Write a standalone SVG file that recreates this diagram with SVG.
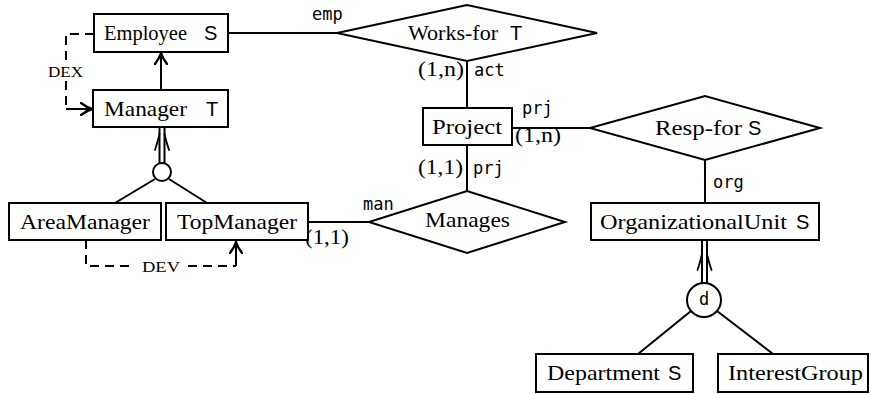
<svg xmlns="http://www.w3.org/2000/svg" width="871" height="394" viewBox="0 0 871 394">
<style>
.box{fill:#fff;stroke:#000;stroke-width:2}
.dia{fill:#fff;stroke:#000;stroke-width:2;stroke-linejoin:miter}
.ln{fill:none;stroke:#000;stroke-width:2}
.dash{fill:none;stroke:#000;stroke-width:2;stroke-dasharray:9 6}
.t{font-family:"Liberation Serif","Times New Roman",serif;font-size:21px;fill:#000}
.s{font-family:"Liberation Sans",Arial,sans-serif;font-size:20px;fill:#000}
.m{font-family:"DejaVu Sans Mono","Liberation Mono",monospace;font-size:17px;fill:#000}
.sm{font-family:"Liberation Serif","Times New Roman",serif;font-size:15px;fill:#000}
.barb{fill:none;stroke:#000;stroke-width:1.8;stroke-linecap:round}
</style>
<defs>
<marker id="arr" viewBox="-12 -7 14 14" refX="0" refY="0" markerWidth="14" markerHeight="14" markerUnits="userSpaceOnUse" orient="auto">
<path d="M-11,-6 Q-5,-1.5 0,0 Q-5,1.5 -11,6" fill="none" stroke="#000" stroke-width="2.4" stroke-linecap="round"/>
</marker>
</defs>
<g id="connectors">
<line class="ln" x1="228" y1="33" x2="337" y2="33"/>
<line class="ln" x1="467" y1="61" x2="467" y2="108"/>
<line class="ln" x1="512" y1="128" x2="590" y2="128"/>
<line class="ln" x1="705" y1="160" x2="705" y2="203"/>
<line class="ln" x1="467" y1="145" x2="467" y2="191"/>
<line class="ln" x1="308" y1="222" x2="369" y2="222"/>
<line class="ln" x1="161" y1="90" x2="161" y2="53" marker-end="url(#arr)"/>
<line class="ln" x1="159.5" y1="164" x2="159.5" y2="127"/>
<line class="ln" x1="164.5" y1="164" x2="164.5" y2="127"/>
<path class="barb" d="M155,150 Q158,141 159.5,134 M169,150 Q166,141 164.5,134"/>
<line class="ln" x1="155" y1="179" x2="115" y2="203"/>
<line class="ln" x1="169" y1="179" x2="207" y2="203"/>
<line class="ln" x1="702" y1="283" x2="702" y2="240"/>
<line class="ln" x1="707" y1="283" x2="707" y2="240"/>
<path class="barb" d="M697.5,270 Q700.5,261 702,254 M711.5,270 Q708.5,261 707,254"/>
<line class="ln" x1="691" y1="311" x2="638" y2="354"/>
<line class="ln" x1="717" y1="311" x2="773" y2="354"/>
<path class="dash" d="M94,34 H66 V109"/>
<line class="ln" x1="66" y1="109" x2="92" y2="109" marker-end="url(#arr)"/>
<path class="dash" d="M86,240 V266 H134"/>
<path class="dash" d="M188,266 H236"/>
<line class="ln" x1="236" y1="266" x2="236" y2="242" marker-end="url(#arr)"/>
<rect x="50" y="62" width="32" height="16" fill="#fff"/>
<text class="sm" x="48" y="77" textLength="35" lengthAdjust="spacingAndGlyphs">DEX</text>
<text class="sm" x="142" y="272" textLength="38" lengthAdjust="spacingAndGlyphs">DEV</text>
<text class="m" x="312" y="20">emp</text>
<text class="t" x="418" y="76" textLength="46" lengthAdjust="spacingAndGlyphs">(1,n)</text>
<text class="m" x="474" y="76">act</text>
<text class="m" x="522" y="114">prj</text>
<text class="t" x="515" y="142" textLength="46" lengthAdjust="spacingAndGlyphs">(1,n)</text>
<text class="m" x="713" y="188">org</text>
<text class="t" x="418" y="174" textLength="45" lengthAdjust="spacingAndGlyphs">(1,1)</text>
<text class="m" x="473" y="174">prj</text>
<text class="m" x="363" y="210">man</text>
<text class="t" x="305" y="244" textLength="44" lengthAdjust="spacingAndGlyphs">(1,1)</text>
</g>
<g id="employee">
<rect class="box" x="94" y="14" width="134" height="38"/>
<text class="t" x="104" y="40" textLength="83" lengthAdjust="spacingAndGlyphs">Employee</text>
<text class="s" x="204" y="40">S</text>
</g>
<g id="manager">
<rect class="box" x="93" y="90" width="135" height="37"/>
<text class="t" x="104" y="116" textLength="83" lengthAdjust="spacingAndGlyphs">Manager</text>
<text class="s" x="206" y="116">T</text>
</g>
<g id="works-for">
<polygon class="dia" points="337,33 467,5 597,33 467,61"/>
<text class="t" x="408" y="40" textLength="90" lengthAdjust="spacingAndGlyphs">Works-for</text>
<text class="s" x="510" y="40">T</text>
</g>
<g id="project">
<rect class="box" x="423" y="108" width="89" height="37"/>
<text class="t" x="432" y="134" textLength="70" lengthAdjust="spacingAndGlyphs">Project</text>
</g>
<g id="resp-for">
<polygon class="dia" points="590,128 705,96 820,128 705,160"/>
<text class="t" x="655" y="135" textLength="87" lengthAdjust="spacingAndGlyphs">Resp-for</text>
<text class="s" x="748" y="135">S</text>
</g>
<g id="organizational-unit">
<rect class="box" x="591" y="203" width="228" height="37"/>
<text class="t" x="600" y="229" textLength="187" lengthAdjust="spacingAndGlyphs">OrganizationalUnit</text>
<text class="s" x="796" y="229">S</text>
</g>
<g id="manages">
<polygon class="dia" points="369,222 467,191 565,222 467,253"/>
<text class="t" x="425" y="227" textLength="85" lengthAdjust="spacingAndGlyphs">Manages</text>
</g>
<g id="gen-manager">
<circle cx="162" cy="172" r="9" fill="#fff" stroke="#000" stroke-width="2"/>
</g>
<g id="area-manager">
<rect class="box" x="9" y="203" width="152" height="37"/>
<text class="t" x="20" y="229" textLength="130" lengthAdjust="spacingAndGlyphs">AreaManager</text>
</g>
<g id="top-manager">
<rect class="box" x="166" y="203" width="142" height="37"/>
<text class="t" x="177" y="229" textLength="120" lengthAdjust="spacingAndGlyphs">TopManager</text>
</g>
<g id="gen-ou">
<circle cx="704" cy="300" r="17" fill="#fff" stroke="#000" stroke-width="2"/>
<text class="m" x="704" y="305" text-anchor="middle">d</text>
</g>
<g id="department">
<rect class="box" x="536" y="354" width="157" height="38"/>
<text class="t" x="547" y="380" textLength="113" lengthAdjust="spacingAndGlyphs">Department</text>
<text class="s" x="668" y="380">S</text>
</g>
<g id="interest-group">
<rect class="box" x="718" y="354" width="150" height="38"/>
<text class="t" x="728" y="380" textLength="135" lengthAdjust="spacingAndGlyphs">InterestGroup</text>
</g>
</svg>
